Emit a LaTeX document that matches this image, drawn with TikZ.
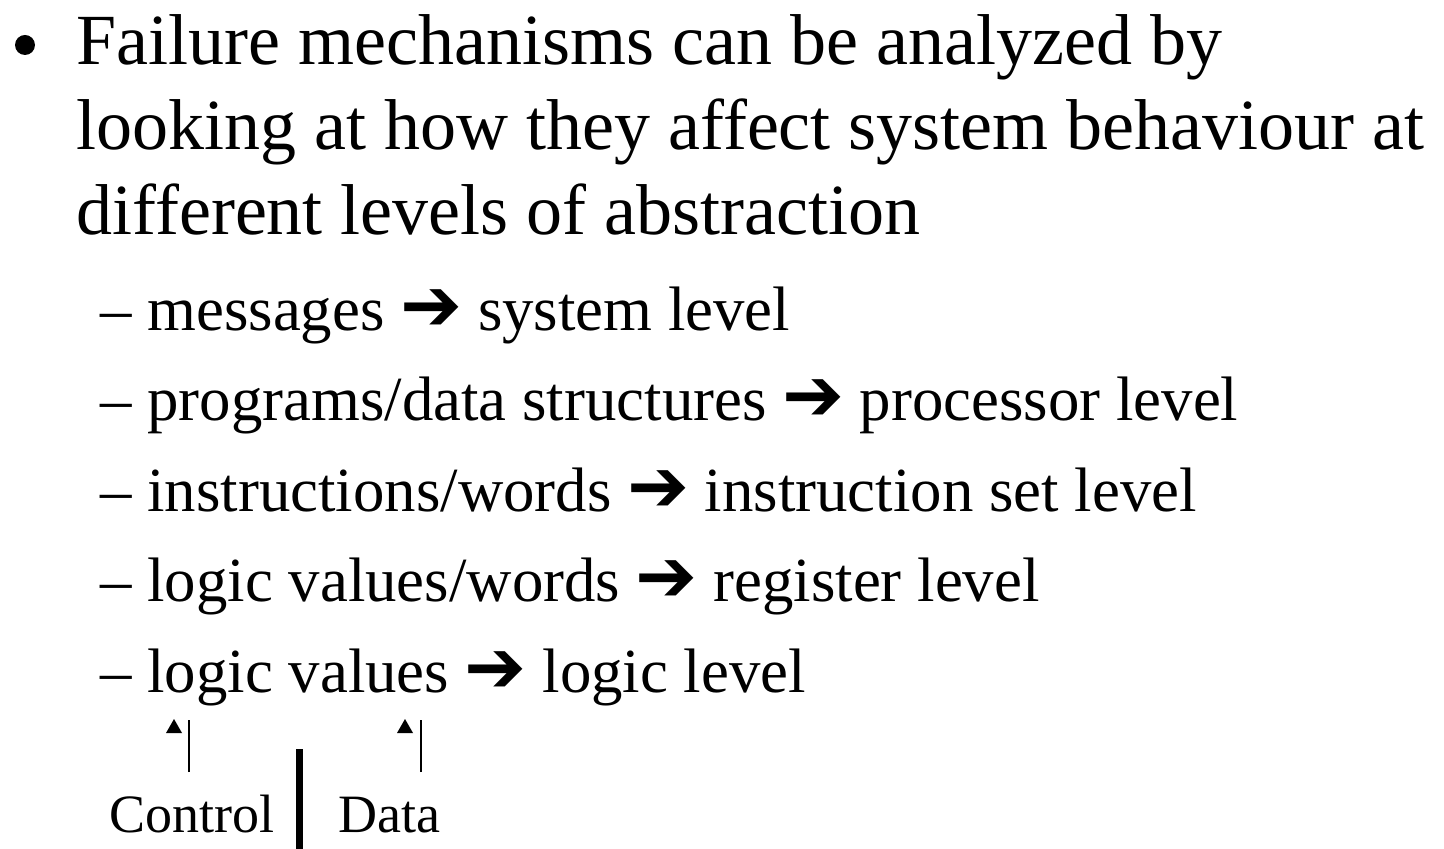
\documentclass[tikz,border=0pt]{standalone}
\usepackage{fontspec}
\setmainfont{Liberation Serif}
\newfontfamily\arrowfont{DejaVu Sans}
\newcommand{\bigarrow}{{\arrowfont\fontsize{37}{37}\selectfont ➔}}
\begin{document}
\begin{tikzpicture}[x=0.5pt,y=-0.5pt,
  mainline/.style={anchor=base west,inner sep=0pt,font=\fontsize{36}{36}\selectfont},
  subline/.style={anchor=base west,inner sep=0pt,font=\fontsize{31.4}{31.4}\selectfont},
  smalllabel/.style={anchor=base west,inner sep=0pt,font=\fontsize{27}{27}\selectfont},
  pointer/.style={line width=0.8pt},
  tip/.style={fill=black}]
\useasboundingbox (0,0) rectangle (1444,849);
% bullet
\fill (25,45) circle (10);
% main text
\node[mainline] (m1) at (76,65) {Failure mechanisms can be analyzed by};
\node[mainline] (m2) at (76,150) {looking at how they affect system behaviour at};
\node[mainline] (m3) at (76,235) {different levels of abstraction};
% sub items
\node[subline] (s1) at (100,331) {– messages \bigarrow{} system level};
\node[subline] (s2) at (100,421) {– programs/data structures \bigarrow{} processor level};
\node[subline] (s3) at (100,511) {– instructions/words \bigarrow{} instruction set level};
\node[subline] (s4) at (100,601) {– logic values/words \bigarrow{} register level};
\node[subline] (s5) at (100,692) {– logic values \bigarrow{} logic level};
% labels
\node[smalllabel] (ctrl) at (109,832) {Control};
\node[smalllabel] (data) at (338,832) {Data};
% pointers
\coordinate (cbot) at (189,772);
\coordinate (ctop) at (189,720);
\coordinate (dbot) at (421,772);
\coordinate (dtop) at (421,720);
\draw[pointer] (cbot) -- (ctop);
\draw[pointer] (dbot) -- (dtop);
\fill[tip] (174,719) -- (182,733) -- (166,733) -- cycle;
\fill[tip] (405,719) -- (413,733) -- (397,733) -- cycle;
% separator bar
\coordinate (bartop) at (299.5,749);
\coordinate (barbot) at (299.5,849);
\draw[line width=3.5pt] (bartop) -- (barbot);
\end{tikzpicture}
\end{document}
